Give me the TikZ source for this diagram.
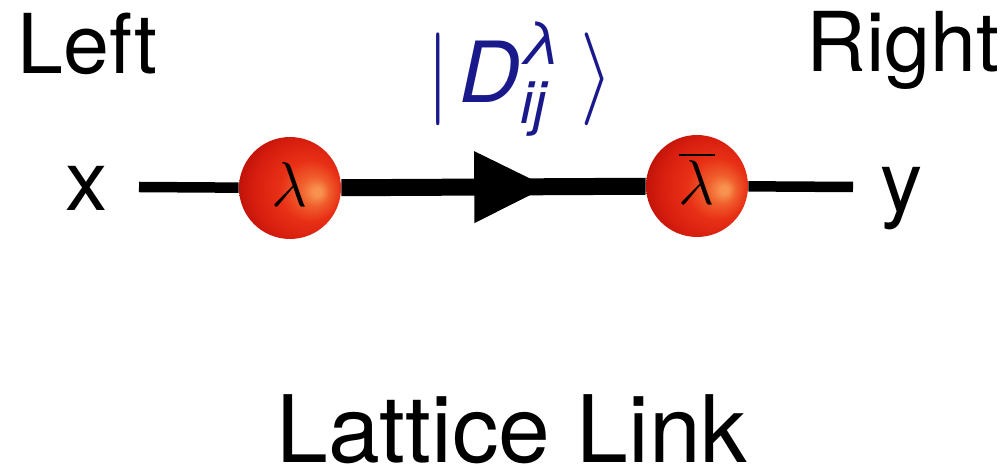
\RequirePackage{fix-cm}
\documentclass[tikz,border=0pt]{standalone}
\usepackage{amsmath}
\usepackage{graphicx}
\usepackage{fontspec}
\setmainfont{TeX Gyre Heros}
\usepackage{xcolor}
\usepackage{tikz}
\usetikzlibrary{arrows.meta,decorations.markings}

\definecolor{labelblue}{RGB}{25,25,140}
\definecolor{ballhi}{RGB}{248,145,80}
\definecolor{ballglow}{RGB}{240,95,45}
\definecolor{ballmid}{RGB}{232,48,22}
\definecolor{ballred}{RGB}{215,30,15}
\definecolor{balldark}{RGB}{180,12,5}
\definecolor{balledge}{RGB}{150,0,0}
\pgfdeclareradialshading{redball}{\pgfpoint{14bp}{-2bp}}{color(0bp)=(ballhi); color(2bp)=(ballhi); color(7bp)=(ballglow); color(15bp)=(ballmid); color(25bp)=(ballred); color(34bp)=(balldark); color(40bp)=(balledge); color(50bp)=(balledge)}

\begin{document}
\begin{tikzpicture}[x=0.02cm,y=-0.02cm,
    word/.style={inner sep=0pt,font=\fontsize{47}{56}\selectfont},
    ball/.style={circle,inner sep=0pt,minimum size=2.04cm,shade,shading=redball,
        font=\fontsize{36}{40}\selectfont,text height=0.76cm,text depth=0cm},
    thinlink/.style={line width=0.21cm},
    thicklink/.style={line width=0.34cm,postaction={decorate},decoration={markings,
        mark=at position 0.675 with {\arrow{Triangle[length=1.45cm,width=1.44cm,line width=0pt]}}}}]
    \useasboundingbox (0,0) rectangle (1007,472);

    \node[word,anchor=base west] (left) at (17,74) {Left};
    \node[word,anchor=base east] (right) at (1000,72) {Right};
    \node[word,anchor=base,font=\fontsize{48}{56}\selectfont] (xlab) at (87,211) {x};
    \node[word,anchor=base,font=\fontsize{48}{56}\selectfont] (ylab) at (902,212) {y};
    \node[word,anchor=base,text=labelblue,font=\fontsize{48}{56}\selectfont] (state) at (520,103)
        {$\scalebox{1}[1.1]{$|$}\mkern2mu\text{\itshape D}^{\text{\itshape λ}}_{\text{\itshape ij}}\mkern4mu\scalebox{1}[1.1]{$\rangle$}$};
    \node[word,anchor=base west,font=\fontsize{53}{60}\selectfont] (title) at (276,462) {Lattice Link};

    \node[ball] (lam) at (290,188) {$\lambda$};
    \node[ball] (lambar) at (697,186) {$\overline{\lambda}$};
    \coordinate (xend) at (139,187);
    \coordinate (yend) at (853,187);

    \draw[thinlink] (xend) -- (lam);
    \draw[thicklink] (lam) -- (lambar);
    \draw[thinlink] (lambar) -- (yend);
\end{tikzpicture}
\end{document}
